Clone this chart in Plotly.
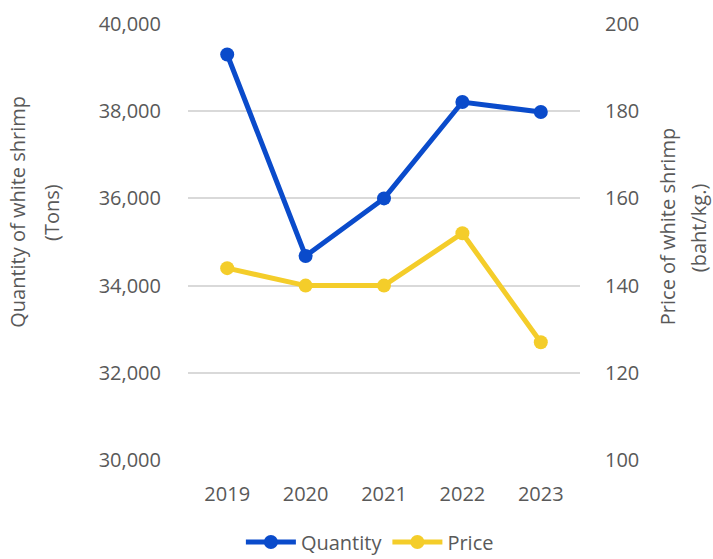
import plotly.graph_objects as go

years = ["2019", "2020", "2021", "2022", "2023"]
quantity_tons = [39300, 34680, 36000, 38210, 37980]
price_baht_kg = [144, 140, 140, 152, 127]

left_title = ["Quantity of white shrimp", "(Tons)"]
right_title = ["Price of white shrimp", "(baht/kg.)"]

BLUE = "#0A4BCB"
YELLOW = "#F4CD2A"
GREY = "#595959"
FONT = "Open Sans, Lato, sans-serif"

fig = go.Figure()
fig.add_trace(go.Scatter(
    x=years, y=quantity_tons, name="Quantity", mode="lines+markers",
    line=dict(color=BLUE, width=5), marker=dict(color=BLUE, size=14),
    yaxis="y",
))
fig.add_trace(go.Scatter(
    x=years, y=price_baht_kg, name="Price", mode="lines+markers",
    line=dict(color=YELLOW, width=5), marker=dict(color=YELLOW, size=14),
    yaxis="y2",
))

# rotated axis titles, one line per annotation for wider line spacing
for text, xpos, ypos in [(left_title[0], -0.434, 0.569), (left_title[1], -0.347, 0.569),
                         (right_title[0], 1.222, 0.534), (right_title[1], 1.301, 0.534)]:
    fig.add_annotation(text=text, xref="paper", yref="paper", x=xpos, y=ypos,
                       xanchor="center", yanchor="middle", textangle=-90,
                       showarrow=False, font=dict(size=20, color=GREY))

fig.update_layout(
    width=713, height=559,
    margin=dict(l=188, r=133, t=24, b=99, autoexpand=False),
    paper_bgcolor="white", plot_bgcolor="white",
    font=dict(family=FONT, size=20, color=GREY),
    showlegend=True,
    legend=dict(orientation="h", x=0.464, xanchor="center", y=-0.188, yanchor="middle",
                font=dict(size=20, color=GREY), itemwidth=50),
    xaxis=dict(type="category", showgrid=False, showline=False, zeroline=False,
               ticks="outside", ticklen=16, tickcolor="rgba(0,0,0,0)",
               tickfont=dict(size=20, color=GREY), range=[-0.5, 4.5]),
    yaxis=dict(range=[30000, 40000], dtick=2000, tickformat=",",
               showgrid=True, gridcolor="#D9D9D9", gridwidth=2,
               zeroline=False, showline=False,
               ticks="outside", ticklen=22, tickcolor="rgba(0,0,0,0)",
               tickfont=dict(size=20, color=GREY)),
    yaxis2=dict(range=[100, 200], dtick=20, overlaying="y", side="right",
                showgrid=False, zeroline=False, showline=False,
                ticks="outside", ticklen=20, tickcolor="rgba(0,0,0,0)",
                tickfont=dict(size=20, color=GREY)),
)

fig.write_html("out.html")
